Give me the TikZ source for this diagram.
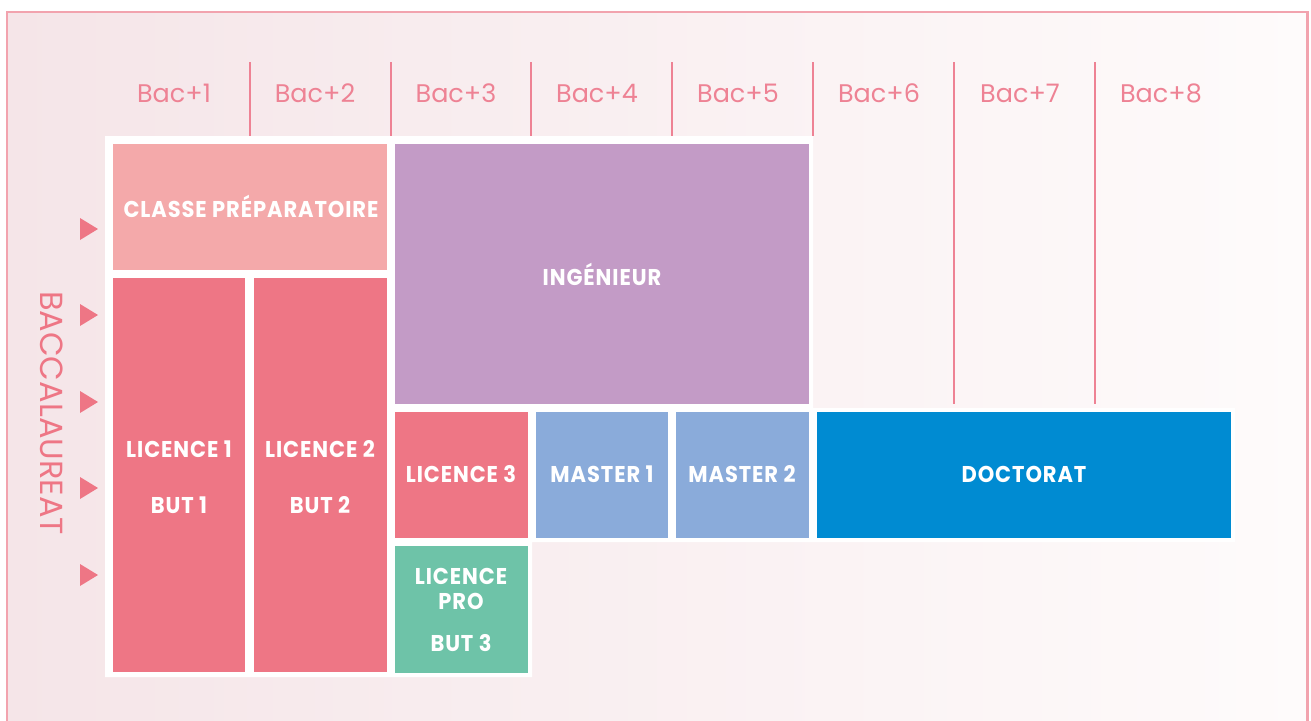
\documentclass[tikz,border=0pt]{standalone}
\usepackage{fontspec}
\setmainfont{Poppins}
\newfontfamily\boxfont{Poppins}[FakeStretch=0.92, LetterSpace=4]

\definecolor{fondrose}{HTML}{F5E5E8}
\definecolor{fondclair}{HTML}{FEFBFB}
\definecolor{cadre}{HTML}{F2A3AE}
\definecolor{rosebac}{HTML}{EE8294}
\definecolor{prepa}{HTML}{F4A9AA}
\definecolor{licence}{HTML}{EE7685}
\definecolor{inge}{HTML}{C39BC6}
\definecolor{master}{HTML}{8AABDA}
\definecolor{doctorat}{HTML}{008BD2}
\definecolor{licpro}{HTML}{6EC3A8}

\tikzset{
	annee/.style={text=rosebac, font=\fontsize{14.5}{16}\selectfont},
	filiere/.style={text=white, align=center, font=\boxfont\bfseries\fontsize{13}{15}\selectfont},
	trait/.style={draw=rosebac, line width=1.1pt},
}

\begin{document}
\begin{tikzpicture}[x=0.02cm, y=-0.02cm]
		\useasboundingbox (0, 0) rectangle (1311, 720);
		\fill[white] (0, 0) rectangle (1311, 720);

		% fond et cadre
		\shade[left color=fondrose, right color=fondclair] (7, 12) rectangle (1307, 730);
		\draw[cadre, line width=1.7pt] (7, 12) rectangle (1307, 730);

		% traits des colonnes
		\foreach \x in {250, 391, 531, 672, 813}
			\draw[trait] (\x, 62) -- (\x, 136);
		\foreach \x in {954, 1095}
			\draw[trait] (\x, 62) -- (\x, 404);

		% Bac+1 ... Bac+8
		\foreach \n in {1, ..., 8}
			\node[annee] (bac\n) at ({103 + 141*\n - 70}, 93) {Bac+\n};

		% fond blanc sous les cases
		\fill[white] (105, 136) -- (813, 136) -- (813, 408) -- (1235, 408) -- (1235, 542)
			-- (532, 542) -- (532, 677) -- (105, 677) -- cycle;

		% cases
		\fill[prepa] (113, 144) rectangle (387, 270);
		\node[filiere] (prepa) at (251, 206) {CLASSE PRÉPARATOIRE};
		\fill[licence] (113, 278) rectangle (245, 672);
		\node[filiere] (l1) at (179, 477) {LICENCE 1\\[17pt]BUT 1};
		\fill[licence] (254, 278) rectangle (387, 672);
		\node[filiere] (l2) at (320, 477) {LICENCE 2\\[17pt]BUT 2};
		\fill[inge] (395, 144) rectangle (809, 404);
		\node[filiere] (inge) at (602, 274) {INGÉNIEUR};
		\fill[licence] (395, 412) rectangle (528, 538);
		\node[filiere] (l3) at (461, 474) {LICENCE 3};
		\fill[master] (536, 412) rectangle (668, 538);
		\node[filiere] (m1) at (602, 474) {MASTER 1};
		\fill[master] (676, 412) rectangle (809, 538);
		\node[filiere] (m2) at (742, 474) {MASTER 2};
		\fill[doctorat] (817, 412) rectangle (1231, 538);
		\node[filiere] (doc) at (1024, 474) {DOCTORAT};
		\fill[licpro] (395, 546) rectangle (528, 673);
		\node[filiere] (lpro) at (461, 610) {LICENCE\\[-1pt]PRO\\[9pt]BUT 3};

		% fleches du baccalaureat
		\foreach \y in {229, 315, 402, 488, 575}
			\fill[licence] (80, \y - 11) -- (98, \y) -- (80, \y + 11) -- cycle;
		\node[text=licence, rotate=-90, font=\fontsize{18.2}{20}\selectfont] (bacc) at (52, 413) {BACCALAUREAT};
\end{tikzpicture}
\end{document}
